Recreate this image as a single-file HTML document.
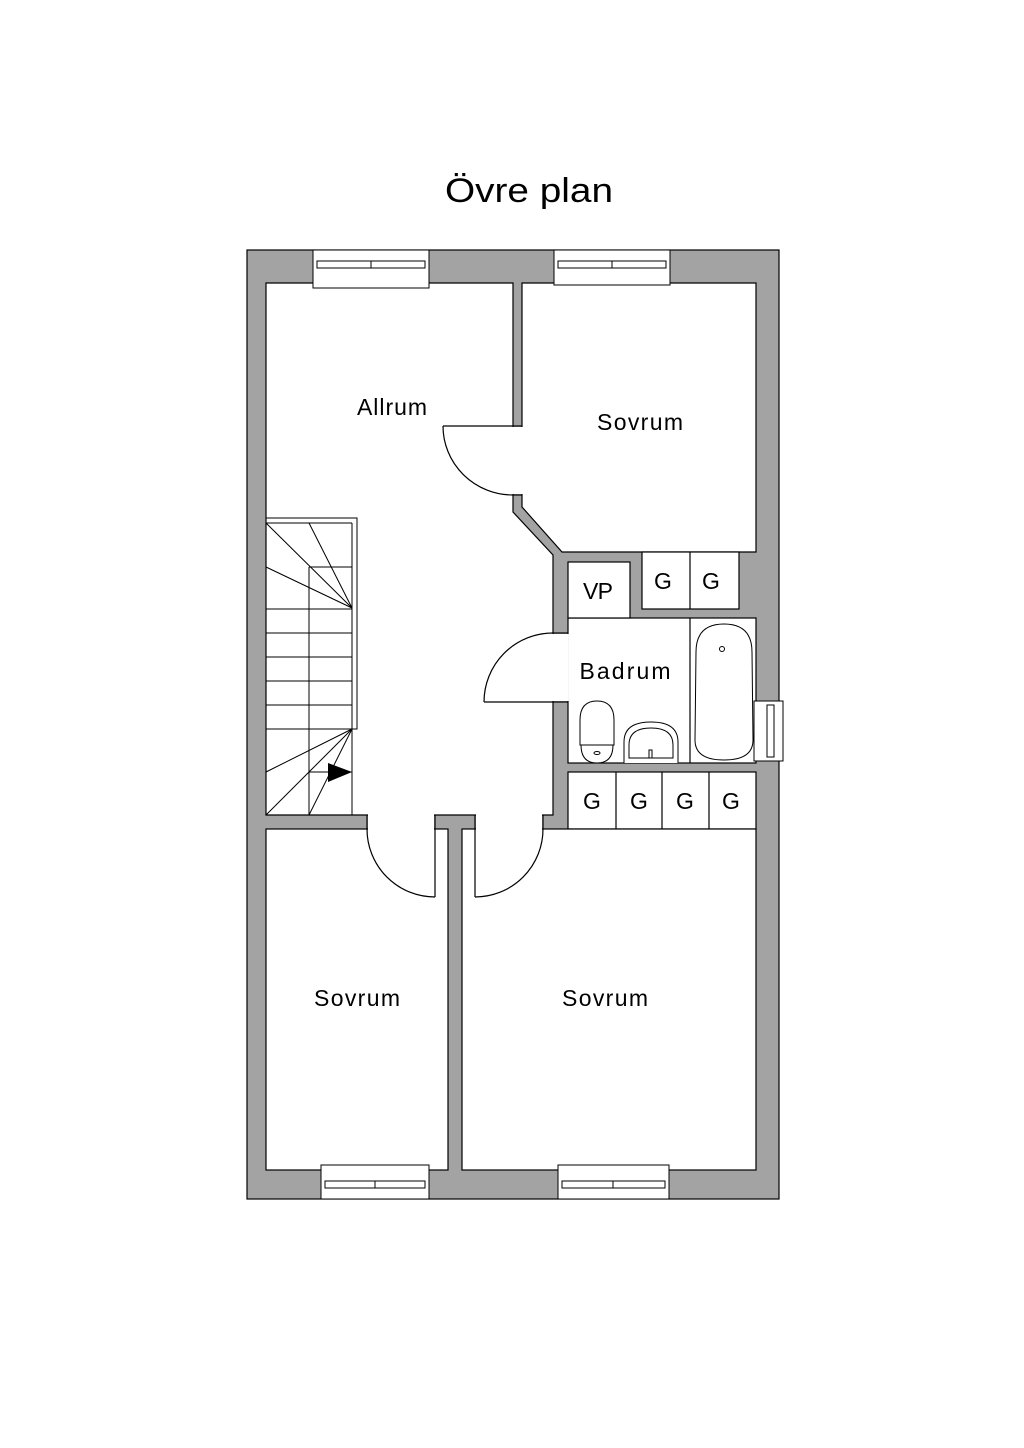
<!DOCTYPE html>
<html><head><meta charset="utf-8"><style>
html,body{margin:0;padding:0;background:#fff;}
svg{display:block;}
text{font-family:"Liberation Sans",sans-serif;fill:#000;}
</style></head><body>
<svg width="1024" height="1448" viewBox="0 0 1024 1448" xmlns="http://www.w3.org/2000/svg">
<rect width="1024" height="1448" fill="#fff"/>
<text x="529" y="202" font-size="34" text-anchor="middle" textLength="168" lengthAdjust="spacingAndGlyphs">Övre plan</text>
<g stroke="#000" stroke-width="1.2">
<rect x="247" y="250" width="532" height="949" fill="#a3a3a3"/>
<polygon points="266,283 513,283 513,512 553,555 553,815 266,815" fill="#fff"/>
<polygon points="522,283 756,283 756,552 562,552 522,507" fill="#fff"/>
<rect x="568" y="618" width="188" height="145" fill="#fff"/>
<rect x="568" y="562" width="62" height="56" fill="#fff"/>
<rect x="642" y="552" width="97" height="57" fill="#fff"/>
<line x1="690" y1="552" x2="690" y2="609"/>
<rect x="568" y="772" width="188" height="57" fill="#fff"/>
<line x1="616" y1="772" x2="616" y2="829"/>
<line x1="662" y1="772" x2="662" y2="829"/>
<line x1="709" y1="772" x2="709" y2="829"/>
<rect x="266" y="829" width="182" height="341" fill="#fff"/>
<rect x="462" y="829" width="294" height="341" fill="#fff"/>
<line x1="690" y1="618" x2="690" y2="763"/>
</g>
<g fill="#fff">
<rect x="512" y="427" width="11.2" height="67"/>
<rect x="552" y="634" width="16.8" height="67"/>
<rect x="368" y="814" width="66" height="16.2"/>
<rect x="476" y="814" width="66" height="16.2"/>
</g>
<g stroke="#000" stroke-width="1.2" fill="none">
<line x1="513" y1="426" x2="522" y2="426"/>
<line x1="513" y1="495" x2="522" y2="495"/>
<line x1="553" y1="633" x2="568" y2="633"/>
<line x1="553" y1="702" x2="568" y2="702"/>
<line x1="367" y1="815" x2="367" y2="829"/>
<line x1="435" y1="815" x2="435" y2="829"/>
<line x1="475" y1="815" x2="475" y2="829"/>
<line x1="543" y1="815" x2="543" y2="829"/>
<line x1="443" y1="426" x2="513" y2="426"/>
<path d="M443,426 A70,69 0 0 0 513,495"/>
<line x1="484" y1="702" x2="553" y2="702"/>
<path d="M484,702 A69,69 0 0 1 553,633"/>
<line x1="435" y1="829" x2="435" y2="897"/>
<path d="M367,829 A68,68 0 0 0 435,897"/>
<line x1="475" y1="829" x2="475" y2="897"/>
<path d="M543,829 A68,68 0 0 1 475,897"/>
</g>
<g stroke="#000" stroke-width="1" fill="#fff">
<rect x="313" y="250" width="116" height="38"/>
<rect x="554" y="250" width="116" height="35"/>
<rect x="321" y="1165" width="108" height="34"/>
<rect x="558" y="1165" width="111" height="34"/>
<rect x="754" y="701" width="29" height="60"/>
</g>
<g stroke="#000" stroke-width="1" fill="none">
<rect x="317" y="261" width="108" height="7"/><line x1="371" y1="261" x2="371" y2="268"/>
<rect x="558" y="261" width="108" height="7"/><line x1="612" y1="261" x2="612" y2="268"/>
<rect x="325" y="1181" width="100" height="7"/><line x1="375" y1="1181" x2="375" y2="1188"/>
<rect x="562" y="1181" width="103" height="7"/><line x1="613" y1="1181" x2="613" y2="1188"/>
<rect x="767" y="705" width="7" height="52"/>
</g>
<g stroke="#000" stroke-width="1" fill="none">
<polyline points="266,518 357,518 357,729 352,729"/>
<line x1="266" y1="523" x2="352" y2="523"/>
<line x1="352" y1="523" x2="352" y2="815"/>
<line x1="309" y1="567" x2="309" y2="815"/>
<line x1="309" y1="567" x2="352" y2="567"/>
<line x1="266" y1="523" x2="352" y2="608"/>
<line x1="266" y1="567" x2="352" y2="608"/>
<line x1="309" y1="523" x2="352" y2="608"/>
<line x1="266" y1="609" x2="352" y2="609"/>
<line x1="266" y1="633" x2="352" y2="633"/>
<line x1="266" y1="657" x2="352" y2="657"/>
<line x1="266" y1="681" x2="352" y2="681"/>
<line x1="266" y1="705" x2="352" y2="705"/>
<line x1="266" y1="729" x2="352" y2="729"/>
<line x1="352" y1="729" x2="266" y2="772"/>
<line x1="352" y1="729" x2="266" y2="815"/>
<line x1="352" y1="729" x2="309" y2="815"/>
<line x1="309" y1="772" x2="352" y2="772"/>
</g>
<polygon points="328,763 352,772 328,782" fill="#000"/>
<g stroke="#000" stroke-width="1" fill="#fff">
<path d="M696,652 Q696,624 724,624 Q752,624 752,652 L753,740 Q753,760 724,760 Q695,760 695,740 Z"/>
<circle cx="722" cy="649" r="2.5"/>
<path d="M580,745 L580,720 Q580,701 597,701 Q614,701 614,720 L614,745 Z"/>
<path d="M581,745 L613,745 Q613,763 597,763 Q581,763 581,745 Z"/>
<ellipse cx="597" cy="753" rx="3" ry="1.5"/>
<path d="M624,763 L624,742 Q624,722 651,722 Q678,722 678,742 L678,763"/>
<path d="M629,758 L629,745 Q629,728 651,728 Q673,728 673,745 L673,758 Z"/>
<rect x="649" y="750" width="3" height="8"/>
</g>
<g font-size="23" text-anchor="middle" lengthAdjust="spacingAndGlyphs">
<text x="392" y="415" textLength="70">Allrum</text>
<text x="640" y="430" textLength="86">Sovrum</text>
<text x="598" y="599" textLength="30">VP</text>
<text x="663" y="589">G</text>
<text x="711" y="589">G</text>
<text x="625" y="679" textLength="91">Badrum</text>
<text x="592" y="809">G</text>
<text x="639" y="809">G</text>
<text x="685" y="809">G</text>
<text x="731" y="809">G</text>
<text x="357" y="1006" textLength="86">Sovrum</text>
<text x="605" y="1006" textLength="86">Sovrum</text>
</g>
</svg>
</body></html>
